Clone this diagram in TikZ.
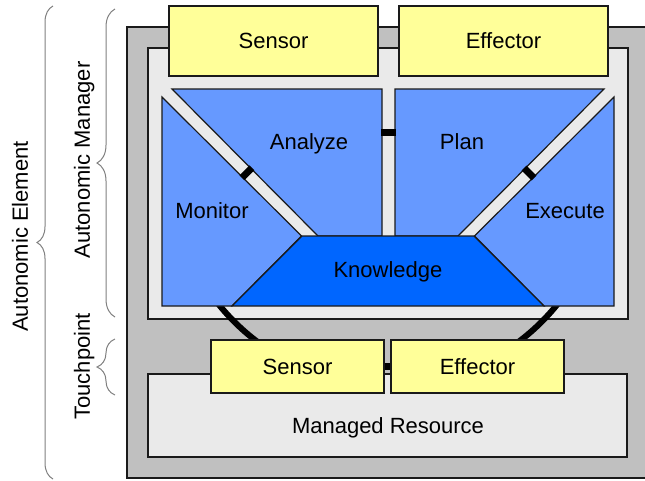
\documentclass[tikz,border=0pt]{standalone}
\usepackage{fontspec}
\setmainfont{Liberation Sans}
\usetikzlibrary{decorations.pathreplacing}
\definecolor{outergray}{HTML}{C0C0C0}
\definecolor{innergray}{HTML}{EAEAEA}
\definecolor{yellowbox}{HTML}{FFFF99}
\definecolor{mapeblue}{HTML}{6699FF}
\definecolor{knowblue}{HTML}{0066FF}
\definecolor{edgecol}{HTML}{1A1A1A}
\definecolor{bracegray}{HTML}{808080}
\begin{document}
\begin{tikzpicture}[x=1pt,y=-1pt,
  font=\fontsize{22}{26}\selectfont,
  lbl/.style={inner sep=0pt, text height=15.8pt, text depth=0pt},
  ybox/.style={draw=edgecol, line width=1.2pt, fill=yellowbox, inner sep=0pt,
    text height=15.8pt, text depth=0pt},
  panel/.style={draw=edgecol, line width=1.3pt},
  mape/.style={draw=edgecol, line width=1.2pt, fill=mapeblue},
  knowstyle/.style={draw=edgecol, line width=1.2pt, fill=knowblue},
  bar/.style={line width=7pt, draw=black},
  arcline/.style={line width=6pt, draw=black},
  bracestyle/.style={draw=bracegray, line width=1pt, decorate,
    decoration={brace, amplitude=#1}}]
\useasboundingbox (0,0) rectangle (645,480);
% panels
\draw[panel, fill=outergray] (127,27) rectangle (649,478);
\draw[panel, fill=innergray] (148,48) rectangle (628,319);
% arcs
\coordinate (arcc) at (388,168);
\draw[arcline] (arcc) ++(217:217.4pt) arc[start angle=217, end angle=238, radius=217.4pt];
\draw[arcline] (arcc) ++(302:217.4pt) arc[start angle=302, end angle=323, radius=217.4pt];
% top sensor / effector
\node[ybox, minimum width=209pt, minimum height=70pt] (tsensor) at (273.5,41) {Sensor};
\node[ybox, minimum width=209pt, minimum height=70pt] (teffector) at (503.5,41) {Effector};
% MAPE
\draw[mape] (162,97) -- (301.5,236) -- (232,306) -- (162,306) -- cycle;
\draw[mape] (172,89) -- (382,89) -- (382,236) -- (318,236) -- cycle;
\draw[mape] (395,89) -- (604,89) -- (458,236) -- (395,236) -- cycle;
\draw[mape] (614,97) -- (614,306) -- (544,306) -- (474.5,236) -- cycle;
\draw[knowstyle] (302,236) -- (474,236) -- (544,306) -- (232,306) -- cycle;
\node[lbl] (monitor) at (212,211) {Monitor};
\node[lbl] (analyze) at (309,142) {Analyze};
\node[lbl] (plan) at (462,142) {Plan};
\node[lbl] (execute) at (565,211) {Execute};
\node[lbl] (knowledge) at (388,270) {Knowledge};
% bars between MAPE parts
\coordinate (ap1) at (381,132.5);
\coordinate (ap2) at (396,132.5);
\draw[bar] (ap1) -- (ap2);
\coordinate (ma1) at (242,177.75);
\coordinate (ma2) at (252,167.75);
\draw[bar] (ma1) -- (ma2);
\coordinate (pe1) at (524,168);
\coordinate (pe2) at (534,178);
\draw[bar] (pe1) -- (pe2);
% managed resource
\node[panel, fill=innergray, minimum width=479pt, minimum height=83pt, inner sep=0pt] (mr) at (387.5,415.5) {};
\node[lbl] (mrlbl) at (388,426) {Managed Resource};
% bottom sensor / effector
\node[ybox, minimum width=173pt, minimum height=53pt] (bsensor) at (297.5,366.5) {Sensor};
\node[ybox, minimum width=173pt, minimum height=53pt] (beffector) at (477.5,366.5) {Effector};
\draw[bar] (bsensor.east) -- (beffector.west);
% braces and labels
\draw[bracestyle=16pt] (53,479) -- (53,6);
\draw[bracestyle=18pt] (115,317) -- (115,9);
\draw[bracestyle=18pt] (115,395) -- (115,339);
\node[lbl, rotate=90] (ae) at (20,236.5) {Autonomic Element};
\node[lbl, rotate=90] (am) at (82,160) {Autonomic Manager};
\node[lbl, rotate=90] (tp) at (82,366.5) {Touchpoint};
\end{tikzpicture}
\end{document}
